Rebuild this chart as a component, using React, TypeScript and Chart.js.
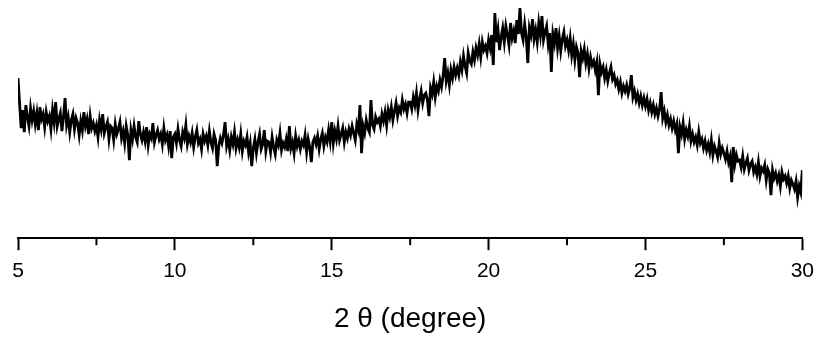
import React, { useEffect, useRef } from "react";
import { Chart, registerables } from "chart.js";

Chart.register(...registerables);

const START_ANGLE = 5;
const STEP_ANGLE = 0.05;
const X_MIN = 5;
const X_MAX = 30;
const TICK_STEP = 2.5;
const LABEL_STEP = 5;
const X_TITLE = "2 θ (degree)";

// intensity (arbitrary units), one row per 0.5 degree, 0.05 degree step
const intensity: number[] = [
  160, 135, 110, 128, 106, 133, 121, 112, 130, 118,
  127, 114, 125, 108, 131, 119, 124, 111, 126, 117,
  122, 109, 128, 116, 136, 112, 119, 125, 107, 121,
  140, 113, 121, 106, 118, 124, 109, 120, 115, 103,
  117, 108, 126, 112, 119, 104, 122, 110, 115, 107,
  113, 101, 118, 109, 124, 105, 111, 116, 99, 112,
  110, 98, 114, 104, 109, 116, 100, 107, 95, 112,
  103, 78, 108, 99, 112, 101, 96, 117, 104, 98,
  106, 97, 111, 93, 104, 100, 115, 96, 103, 108,
  99, 104, 94, 110, 98, 103, 92, 107, 80, 101,
  104, 95, 109, 98, 92, 106, 100, 113, 94, 102,
  96, 105, 91, 101, 108, 95, 99, 89, 104, 97,
  102, 93, 107, 96, 90, 104, 98, 72, 92, 100,
  95, 103, 116, 92, 99, 88, 101, 94, 106, 90,
  98, 91, 104, 87, 97, 93, 101, 86, 95, 72,
  90, 99, 85, 96, 104, 89, 94, 108, 87, 97,
  96, 86, 101, 91, 84, 98, 93, 105, 88, 95,
  91, 99, 87, 112, 90, 96, 85, 102, 92, 98,
  89, 97, 93, 103, 86, 99, 91, 76, 96, 100,
  94, 102, 89, 99, 105, 92, 101, 96, 108, 97,
  116, 95, 107, 99, 112, 98, 104, 110, 96, 106,
  100, 109, 103, 112, 105, 98, 114, 108, 133, 85,
  112, 105, 118, 110, 106, 138, 113, 109, 121, 116,
  119, 112, 124, 117, 126, 113, 128, 121, 131, 118,
  127, 135, 122, 130, 126, 138, 129, 134, 125, 136,
  136, 129, 141, 133, 145, 128, 139, 147, 135, 143,
  145, 138, 122, 150, 144, 156, 141, 152, 147, 158,
  151, 162, 180, 157, 165, 153, 168, 160, 171, 163,
  170, 163, 176, 168, 182, 172, 165, 185, 177, 174,
  186, 178, 190, 183, 194, 181, 196, 188, 192, 185,
  198, 190, 203, 173, 225, 196, 208, 188, 201, 210,
  196, 212, 203, 193, 215, 200, 207, 195, 218, 204,
  230, 205, 198, 214, 201, 175, 210, 203, 219, 199,
  208, 196, 215, 203, 222, 198, 206, 212, 194, 205,
  166, 204, 195, 210, 190, 202, 187, 199, 206, 192,
  198, 188, 200, 183, 194, 178, 191, 185, 161, 187,
  180, 189, 175, 184, 170, 181, 173, 177, 168, 176,
  143, 174, 166, 171, 160, 168, 157, 165, 171, 159,
  163, 154, 158, 149, 156, 145, 152, 147, 153, 144,
  150, 163, 141, 147, 138, 144, 135, 142, 133, 140,
  132, 139, 128, 135, 126, 133, 124, 130, 122, 129,
  146, 120, 127, 116, 123, 113, 119, 110, 117, 108,
  114, 85, 111, 104, 115, 99, 108, 102, 112, 97,
  104, 96, 101, 93, 106, 95, 99, 90, 97, 88,
  94, 86, 98, 83, 92, 87, 81, 95, 84, 90,
  85, 79, 87, 76, 82, 56, 91, 74, 83, 77,
  78, 71, 82, 69, 75, 80, 68, 74, 77, 66,
  71, 64, 76, 62, 70, 67, 73, 58, 69, 65,
  43, 68, 60, 65, 57, 63, 52, 66, 59, 62,
  55, 62, 50, 58, 54, 49, 57, 41, 52, 46,
  68,
];

const Y_MIN = 0;
const Y_MAX = 238;

const minorTickPlugin = {
  id: "minorTicks",
  afterDraw(chart: any) {
    const scale = chart.scales.x;
    const ctx = chart.ctx;
    const bottom = chart.chartArea.bottom;
    ctx.save();
    ctx.strokeStyle = "#000";
    ctx.lineWidth = 2;
    scale.ticks.forEach((t: any) => {
      if (Math.abs(t.value % LABEL_STEP) > 1e-6) {
        const px = scale.getPixelForValue(t.value);
        ctx.beginPath();
        ctx.moveTo(px, bottom);
        ctx.lineTo(px, bottom + 7);
        ctx.stroke();
      }
    });
    ctx.restore();
  },
};

export default function App() {
  const ref = useRef<HTMLCanvasElement | null>(null);
  useEffect(() => {
    if (!ref.current) return;
    const points = intensity.map((v, i) => ({ x: START_ANGLE + i * STEP_ANGLE, y: v }));
    const chart = new Chart(ref.current, {
      type: "line",
      data: {
        datasets: [
          {
            data: points,
            borderColor: "#000",
            borderWidth: 2.8,
            pointRadius: 0,
            tension: 0,
            fill: false,
          },
        ],
      },
      options: {
        animation: false,
        responsive: false,
        maintainAspectRatio: false,
        layout: { padding: { left: 18, right: 18, top: 0, bottom: 3 } },
        plugins: { legend: { display: false }, tooltip: { enabled: false } },
        scales: {
          x: {
            type: "linear",
            min: X_MIN,
            max: X_MAX,
            position: "bottom",
            border: { display: true, color: "#000", width: 2 },
            grid: {
              drawOnChartArea: false,
              drawTicks: true,
              tickLength: 12,
              tickWidth: 2,
              tickColor: (c: any) =>
                c.tick && Math.abs(c.tick.value % LABEL_STEP) < 1e-6 ? "#000" : "rgba(0,0,0,0)",
            },
            ticks: {
              stepSize: TICK_STEP,
              autoSkip: false,
              maxRotation: 0,
              padding: 8,
              color: "#000",
              font: { family: "'Liberation Sans', Arial, sans-serif", size: 21 },
              callback: (v: any) => (Math.abs(Number(v) % LABEL_STEP) < 1e-6 ? String(v) : ""),
            },
            title: {
              display: true,
              text: X_TITLE,
              color: "#000",
              font: { family: "'Liberation Sans', Arial, sans-serif", size: 28 },
              padding: { top: 11, bottom: 2 },
            },
          },
          y: { display: false, min: Y_MIN, max: Y_MAX },
        },
      },
      plugins: [minorTickPlugin],
    });
    return () => chart.destroy();
  }, []);
  return (
    <div style={{ position: "absolute", left: 0, top: 0, width: 822, height: 341, background: "#fff" }}>
      <canvas ref={ref} width={822} height={341} style={{ display: "block" }} />
    </div>
  );
}
